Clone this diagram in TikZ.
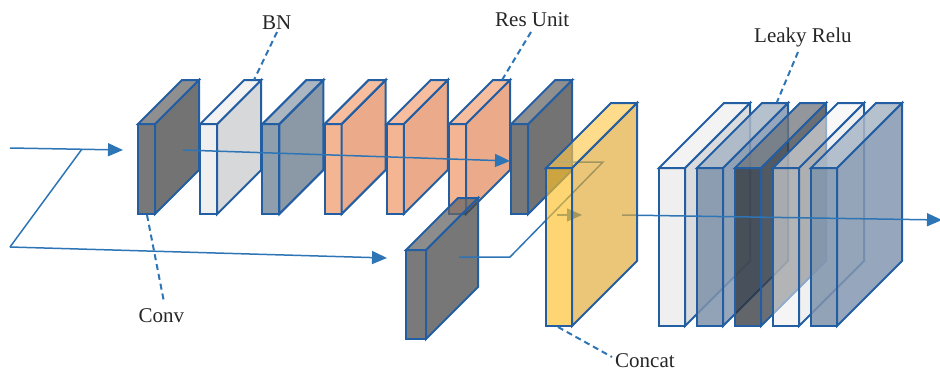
\documentclass[tikz,border=0pt]{standalone}
\usepackage{fontspec}
\setmainfont{Liberation Serif}
\usetikzlibrary{arrows.meta}

\definecolor{slabblue}{HTML}{235EA3}
\definecolor{linkblue}{HTML}{2E75B6}
\definecolor{labelgray}{HTML}{262626}
% face colours: front / side / top
\definecolor{convF}{HTML}{787878}\definecolor{convS}{HTML}{737373}\definecolor{convT}{HTML}{8F8F8F}
\definecolor{bnF}{HTML}{EFEFEF}\definecolor{bnS}{HTML}{D6D8DA}\definecolor{bnT}{HTML}{F2F2F2}
\definecolor{ftF}{HTML}{8E9EAD}\definecolor{ftS}{HTML}{8B99A7}\definecolor{ftT}{HTML}{ABB6C1}
\definecolor{resF}{HTML}{F4B593}\definecolor{resS}{HTML}{EBAB8B}\definecolor{resT}{HTML}{F6BE9F}
\definecolor{skF}{HTML}{4E4E4E}\definecolor{skS}{HTML}{4A4A4A}\definecolor{skT}{HTML}{666666}
\definecolor{wF}{HTML}{EEEEEE}\definecolor{wS}{HTML}{D6D8DA}\definecolor{wT}{HTML}{F2F2F2}
\definecolor{sbF}{HTML}{7F93AB}\definecolor{sbS}{HTML}{8497B0}\definecolor{sbT}{HTML}{A9B6C6}
\definecolor{dkF}{HTML}{2E333A}\definecolor{dkS}{HTML}{3A3F46}\definecolor{dkT}{HTML}{6F747A}
\definecolor{ltF}{HTML}{EDEDED}\definecolor{ltS}{HTML}{E4E4E4}\definecolor{ltT}{HTML}{F2F2F2}
\definecolor{catF}{HTML}{FCBF26}\definecolor{catS}{HTML}{E1A830}\definecolor{catT}{HTML}{FFC94E}

\newcommand{\labelfont}{\fontsize{21}{25}\selectfont}

% \slabat[options]{x}{y}{width}{height}{depth}{front}{side}{top}
\newcommand{\slabat}[9][]{%
  \begin{scope}[#1]
    \filldraw[slabline, fill=#7] (#2,#3) rectangle ++(#4,#5);
    \filldraw[slabline, fill=#8] ({#2+#4},#3) -- ++(#6,-#6) -- ++(0,#5) -- ++(-#6,#6) -- cycle;
    \filldraw[slabline, fill=#9] (#2,#3) -- ++(#6,-#6) -- ++(#4,0) -- ++(-#6,#6) -- cycle;
  \end{scope}}

\tikzset{
  slabline/.style={draw=slabblue, line width=2pt},
  conn/.style={draw=linkblue, line width=1.5pt},
  arrowed/.style={conn, -{Triangle[length=15pt,width=13pt]}},
  callout/.style={draw=linkblue, line width=2pt, dash pattern=on 6pt off 4pt},
  lbl/.style={font=\labelfont, text=labelgray, inner sep=0pt, anchor=base west},
}

\begin{document}
\begin{tikzpicture}[x=1pt,y=-1pt]
\useasboundingbox (0,0) rectangle (940,370);

% connector end points
\coordinate (in0) at (10,148);
\coordinate (convin) at (123,150);
\coordinate (br) at (82,149);
\coordinate (lowturn) at (10,247);
\coordinate (smallin) at (387,258);
\coordinate (mainfrom) at (183,150);
\coordinate (mainto) at (510,161);
\coordinate (smallout) at (459,257);
\coordinate (kneeA) at (510,257);
\coordinate (kneeB) at (603,162);
\coordinate (kneeC) at (557,162);
\coordinate (catfrom) at (557,215);
\coordinate (catto) at (582,215);
\coordinate (outfrom) at (622,215);
\coordinate (outto) at (942,220);

% input and skip branch
\draw[arrowed] (in0) -- (convin);
\draw[conn] (br) -- (lowturn);
\draw[arrowed] (lowturn) -- (smallin);

% main branch: conv, BN, feature, three residual units, conv
\slabat{138}{124}{17}{90}{44}{convF}{convS}{convT}
\slabat{200.2}{124}{17}{90}{44}{bnF}{bnS}{bnT}
\slabat{262.4}{124}{17}{90}{44}{ftF}{ftS}{ftT}
\slabat{324.6}{124}{17}{90}{44}{resF}{resS}{resT}
\slabat{386.8}{124}{17}{90}{44}{resF}{resS}{resT}
\slabat{449}{124}{17}{90}{44}{resF}{resS}{resT}
\slabat{511.2}{124}{17}{90}{44}{convF}{convS}{convT}
\draw[arrowed] (mainfrom) -- (mainto);

% skip-branch conv
\slabat[fill opacity=0.75]{406}{250}{20}{89}{52}{skF}{skS}{skT}
\draw[conn] (smallout) -- (kneeA) -- (kneeB) -- (kneeC);
\draw[arrowed] (catfrom) -- (catto);

% output stack
\slabat[fill opacity=0.92]{659}{168}{26}{158}{65}{wF}{wS}{wT}
\slabat[fill opacity=0.85]{697}{168}{26}{158}{65}{sbF}{sbS}{sbT}
\slabat[fill opacity=0.75]{735}{168}{26}{158}{65}{dkF}{dkS}{dkT}
\slabat[fill opacity=0.55]{773}{168}{26}{158}{65}{ltF}{ltS}{ltT}
\slabat[fill opacity=0.85]{811}{168}{26}{158}{65}{sbF}{sbS}{sbT}
\draw[arrowed] (outfrom) -- (outto);

% concat
\slabat[fill opacity=0.65]{546}{168}{26}{158}{65}{catF}{catS}{catT}

% labels and callouts
\node[lbl] (bn) at (262,29) {BN};
\node[lbl] (res) at (495,26) {Res Unit};
\node[lbl] (relu) at (754,42.3) {Leaky Relu};
\node[lbl] (conv) at (138.5,322.7) {Conv};
\node[lbl] (cat) at (615,367) {Concat};
\coordinate (bnA) at (277,32);   \coordinate (bnB) at (254,80);
\coordinate (resA) at (531,32);  \coordinate (resB) at (502,80);
\coordinate (reluA) at (798,52); \coordinate (reluB) at (777,102);
\coordinate (convA) at (147,215); \coordinate (convB) at (164,302);
\coordinate (catA) at (558,327); \coordinate (catB) at (612,357);
\draw[callout] (bnA) -- (bnB);
\draw[callout] (resA) -- (resB);
\draw[callout] (reluA) -- (reluB);
\draw[callout] (convA) -- (convB);
\draw[callout] (catA) -- (catB);
\end{tikzpicture}
\end{document}
